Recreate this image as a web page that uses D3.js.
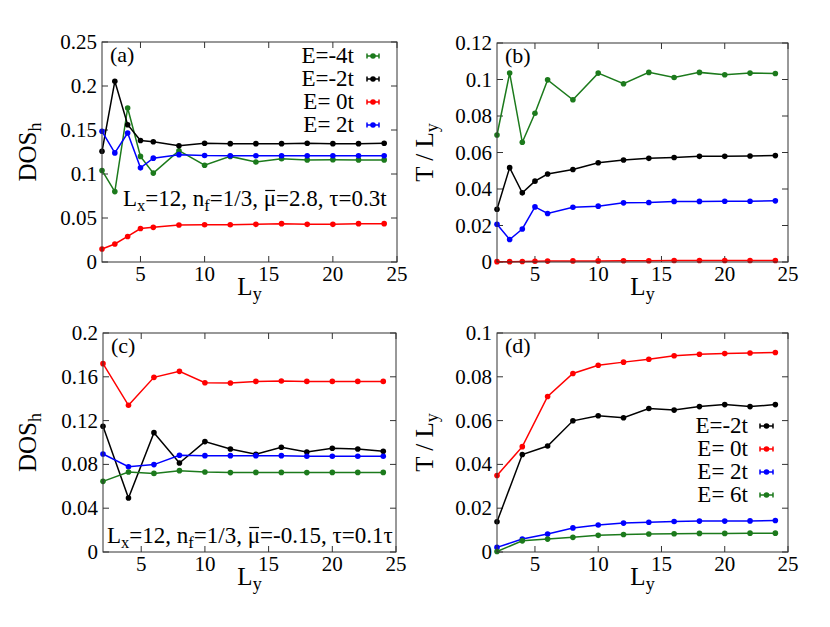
<!DOCTYPE html>
<html><head><meta charset="utf-8">
<script src="https://cdn.jsdelivr.net/npm/d3@7"></script>
</head><body style="margin:0;background:#fff"><svg id="c" width="830" height="627" font-family="Liberation Serif"></svg>
<script>
// ---- data ----
const xA = [2,3,4,5,6,8,10,12,14,16,18,20,22,24];
const xC = [2,4,6,8,10,12,14,16,18,20,22,24];

const aEm4 = [0.104,0.080,0.175,0.120,0.101,0.1265,0.110,0.120,0.1136,0.1174,0.116,0.1163,0.116,0.116];
const aEm2 = [0.1258,0.2053,0.156,0.138,0.1367,0.132,0.135,0.1345,0.1345,0.1345,0.135,0.1345,0.1345,0.135];
const aE0  = [0.0148,0.0205,0.029,0.038,0.0394,0.042,0.0424,0.0424,0.0428,0.0436,0.0428,0.0428,0.0436,0.0436];
const aE2  = [0.1485,0.124,0.1466,0.107,0.118,0.122,0.121,0.1208,0.1208,0.1208,0.1208,0.1208,0.1208,0.1208];

const bEm4 = [0.0696,0.1035,0.0656,0.0815,0.0998,0.0889,0.1035,0.0977,0.1039,0.1011,0.1039,0.1026,0.1035,0.1033];
const bEm2 = [0.0289,0.0517,0.0379,0.0443,0.0482,0.0507,0.0544,0.0559,0.0568,0.0573,0.0579,0.0579,0.0581,0.0583];
const bE0  = [0.0002,0.0002,0.0003,0.0004,0.0005,0.0006,0.0006,0.0007,0.0007,0.0008,0.0008,0.0008,0.0008,0.0008];
const bE2  = [0.0207,0.0123,0.0181,0.0302,0.0266,0.0300,0.0306,0.0324,0.0326,0.0332,0.0332,0.0333,0.0333,0.0335];

const cEm2 = [0.1148,0.0493,0.109,0.0813,0.1008,0.094,0.0892,0.0956,0.0913,0.0947,0.094,0.0919];
const cE0  = [0.172,0.134,0.1595,0.165,0.1546,0.1543,0.1558,0.1562,0.1558,0.1558,0.1558,0.1558];
const cE2  = [0.0895,0.0779,0.0798,0.0883,0.088,0.088,0.088,0.088,0.0874,0.0874,0.0874,0.0874];
const cE6  = [0.0645,0.073,0.0718,0.0743,0.073,0.0725,0.0727,0.0727,0.0725,0.0727,0.0727,0.0727];

const dEm2 = [0.0138,0.0445,0.0484,0.0599,0.0622,0.0613,0.0655,0.0648,0.0664,0.0673,0.0664,0.0673];
const dE0  = [0.0349,0.0481,0.0710,0.0815,0.0853,0.0867,0.0880,0.0896,0.0903,0.0906,0.0909,0.0911];
const dE2  = [0.0021,0.0059,0.0082,0.0110,0.0123,0.0132,0.0136,0.0139,0.0141,0.0141,0.0142,0.0144];
const dE6  = [0.0002,0.0051,0.0059,0.0067,0.0076,0.0080,0.0082,0.0083,0.0085,0.0085,0.0086,0.0086];

const xTicks = [5,10,15,20,25];
const yTicksA = [0,0.05,0.1,0.15,0.2,0.25];
const yTicksB = [0,0.02,0.04,0.06,0.08,0.1,0.12];
const yTicksC = [0,0.04,0.08,0.12,0.16,0.2];
const yTicksD = [0,0.02,0.04,0.06,0.08,0.1];

const legA = ["E=-4t","E=-2t","E= 0t","E= 2t"];
const legD = ["E=-2t","E= 0t","E= 2t","E= 6t"];

const GREEN="#1c7a1c", BLACK="#000000", RED="#ff0000", BLUE="#0000ff";
const FONT="Liberation Serif";

const svg = d3.select("#c");

function panel(o){
  const g = svg.append("g");
  const x = d3.scaleLinear().domain([2,25]).range([o.l,o.r]);
  const y = d3.scaleLinear().domain([0,o.ymax]).range([o.b,o.t]);
  const T=6;
  g.selectAll(".xt").data(xTicks).join("path")
    .attr("d",d=>`M${x(d)},${o.b}v${-T}M${x(d)},${o.t}v${T}`).attr("stroke","#333").attr("stroke-width",1);
  g.selectAll(".yt").data(o.yt).join("path")
    .attr("d",d=>`M${o.l},${y(d)}h${T}M${o.r},${y(d)}h${-T}`).attr("stroke","#333").attr("stroke-width",1);
  g.selectAll(".xl").data(xTicks).join("text").attr("font-family",FONT)
    .attr("x",d=>x(d)).attr("y",o.b+19).attr("text-anchor","middle").attr("font-size",21).text(d=>d);
  g.selectAll(".yl").data(o.yt).join("text").attr("font-family",FONT)
    .attr("x",o.l-5).attr("y",d=>y(d)+7).attr("text-anchor","end").attr("font-size",21)
    .text(d=>d===0?"0":String(+d.toFixed(3)));
  const line = d3.line().x(d=>x(d[0])).y(d=>y(d[1]));
  o.series.forEach(s=>{
    const pts = o.xs.map((v,i)=>[v,s.v[i]]);
    g.append("path").datum(pts).attr("d",line).attr("fill","none").attr("stroke",s.c).attr("stroke-width",1.5);
    g.selectAll(null).data(pts).join("circle").attr("cx",d=>x(d[0])).attr("cy",d=>y(d[1])).attr("r",2.8).attr("fill",s.c);
  });
  g.append("rect").attr("x",o.l).attr("y",o.t).attr("width",o.r-o.l).attr("height",o.b-o.t)
    .attr("fill","none").attr("stroke","#333").attr("stroke-width",1);
  g.append("text").attr("font-family",FONT).attr("x",o.l+8).attr("y",o.t+20).attr("font-size",22).text(o.label);
  const xl = g.append("text").attr("font-family",FONT).attr("x",(o.l+o.r)/2).attr("y",o.b+33).attr("text-anchor","middle").attr("font-size",25);
  xl.append("tspan").text("L");
  xl.append("tspan").attr("font-size",18).attr("dy",5).text("y");
  const cy=(o.t+o.b)/2;
  const yl = g.append("text").attr("font-family",FONT).attr("transform",`translate(${o.ylx},${cy}) rotate(-90)`).attr("text-anchor","middle").attr("font-size",25);
  o.ylab.forEach(p=>{ const t=yl.append("tspan").text(p[0]); if(p[1]){t.attr("font-size",18).attr("dy",5);} });
  if(o.leg){
    o.leg.forEach((L,i)=>{
      const yy=o.leg0+i*23;
      g.append("text").attr("font-family",FONT).attr("x",o.legx).attr("y",yy+7).attr("text-anchor","end").attr("font-size",23).text(L.t);
      const x0=o.legx+o.lg0, x1=o.legx+o.lg1;
      g.append("path").attr("d",`M${x0},${yy}H${x1}M${x0},${yy-2.5}v5M${x1},${yy-2.5}v5`).attr("stroke",L.c).attr("stroke-width",1.5);
      g.append("circle").attr("cx",(x0+x1)/2).attr("cy",yy).attr("r",2.8).attr("fill",L.c);
    });
  }
  if(o.ann){
    const a=g.append("text").attr("font-family",FONT).attr("x",o.ann.x).attr("y",o.ann.y).attr("font-size",o.ann.fs);
    let idx=0, barIdx=-1;
    o.ann.parts.forEach(p=>{
      const t=a.append("tspan").text(p[0]);
      if(p[1]==="sub") t.attr("font-size",o.ann.fs*0.72).attr("dy",5);
      if(p[1]==="up") t.attr("dy",-5);
      if(p[1]==="bar") barIdx=idx;
      idx+=p[0].length;
    });
    if(barIdx>=0){
      const r=a.node().getExtentOfChar(barIdx);
      g.append("line").attr("x1",r.x+1.5).attr("x2",r.x+r.width-1).attr("y1",o.ann.y-15.5).attr("y2",o.ann.y-15.5)
        .attr("stroke","#000").attr("stroke-width",1.2);
    }
  }
}

panel({l:102,r:397,t:42,b:262,ymax:0.25,yt:yTicksA,xs:xA,label:"(a)",ylx:36,
  ylab:[["DOS"],["h",true]],
  series:[{v:aEm4,c:GREEN},{v:aEm2,c:BLACK},{v:aE0,c:RED},{v:aE2,c:BLUE}],
  leg:[{t:legA[0],c:GREEN},{t:legA[1],c:BLACK},{t:legA[2],c:RED},{t:legA[3],c:BLUE}],
  legx:354,leg0:56,lg0:13,lg1:25,
  ann:{x:123,y:206,fs:23,parts:[["L"],["x","sub"],["=12, n","up"],["f","sub"],["=1/3, ","up"],["\u03BC","bar"],["=2.8, \u03C4=0.3t"]]}
});
panel({l:497,r:788,t:43,b:262,ymax:0.12,yt:yTicksB,xs:xA,label:"(b)",ylx:433,
  ylab:[["T / L"],["y",true]],
  series:[{v:bEm4,c:GREEN},{v:bEm2,c:BLACK},{v:bE0,c:RED},{v:bE2,c:BLUE}]
});
panel({l:103,r:396,t:333,b:552,ymax:0.2,yt:yTicksC,xs:xC,label:"(c)",ylx:36,
  ylab:[["DOS"],["h",true]],
  series:[{v:cE0,c:RED},{v:cEm2,c:BLACK},{v:cE2,c:BLUE},{v:cE6,c:GREEN}],
  ann:{x:107,y:543,fs:23,parts:[["L"],["x","sub"],["=12, n","up"],["f","sub"],["=1/3, ","up"],["\u03BC","bar"],["=-0.15, \u03C4=0.1\u03C4"]]}
});
panel({l:497,r:788,t:333,b:552,ymax:0.1,yt:yTicksD,xs:xC,label:"(d)",ylx:433,
  ylab:[["T / L"],["y",true]],
  series:[{v:dE0,c:RED},{v:dEm2,c:BLACK},{v:dE2,c:BLUE},{v:dE6,c:GREEN}],
  leg:[{t:legD[0],c:BLACK},{t:legD[1],c:RED},{t:legD[2],c:BLUE},{t:legD[3],c:GREEN}],
  legx:748,leg0:426,lg0:12,lg1:25
});
</script></body></html>
